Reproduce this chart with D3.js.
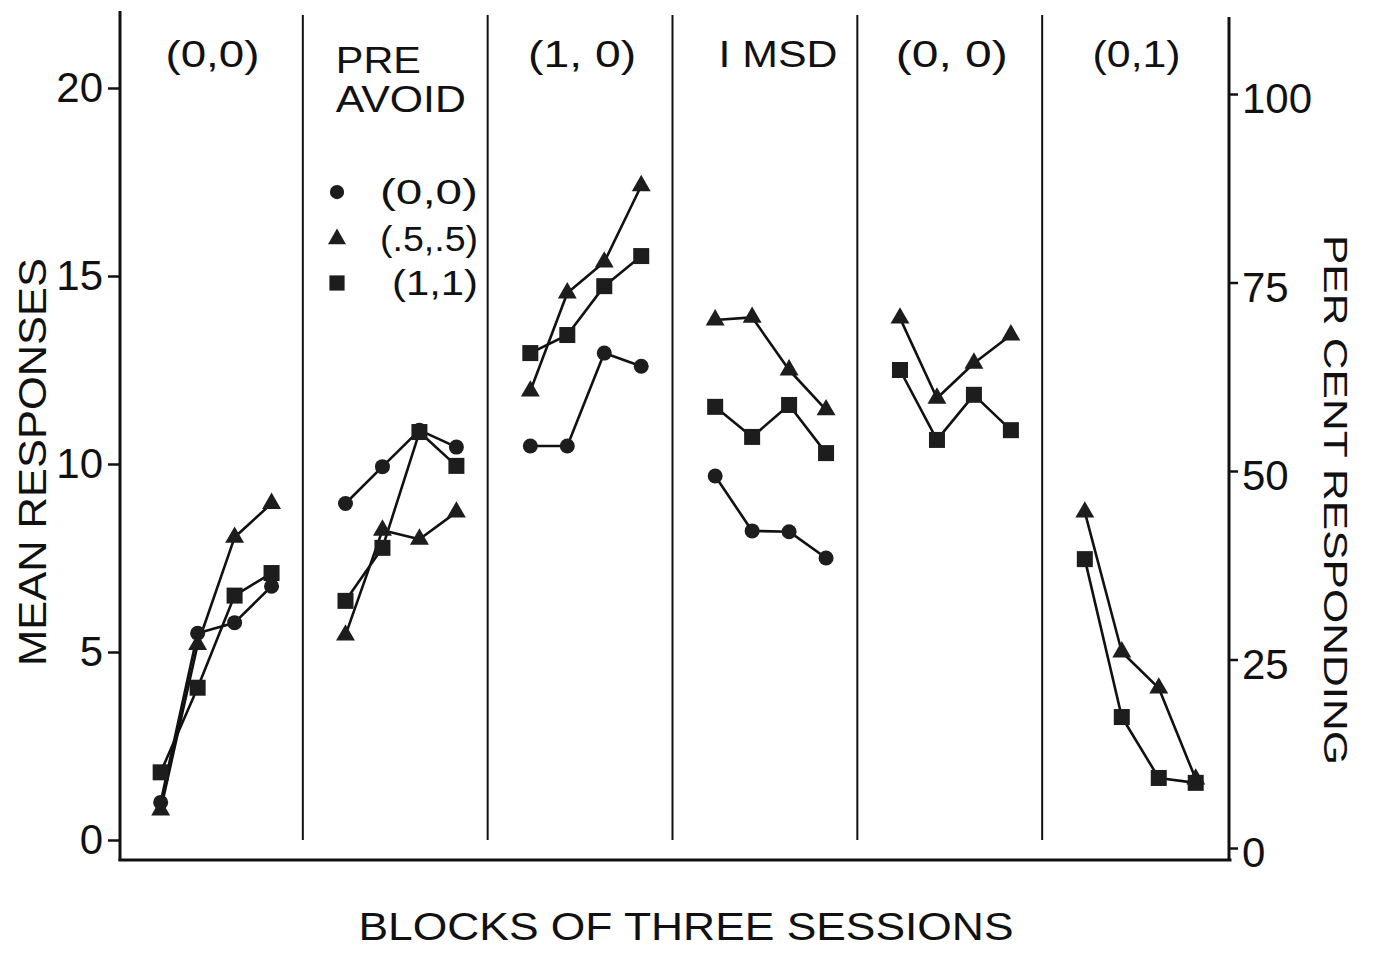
<!DOCTYPE html>
<html>
<head>
<meta charset="utf-8">
<script src="https://cdn.jsdelivr.net/npm/d3@7"></script>
<style>
  html, body { margin: 0; padding: 0; background: #fff; }
  svg { display: block; }
  text { font-family: "Liberation Sans", Arial, sans-serif; fill: #111; }
</style>
</head>
<body>
<svg id="chart" width="1375" height="956"></svg>
<script>
// Experimental phases, left to right
const phases = ["(0,0)", "PRE AVOID", "(1, 0)", "I MSD", "(0, 0)", "(0,1)"];
// Four blocks of three sessions inside each phase
const blocks = [1, 2, 3, 4];

// Mean responses per block, one row per phase (null = group not run in that phase)
const group00 = [
  [1.0, 5.5, 5.78, 6.75],
  [8.95, 9.93, 10.9, 10.45],
  [10.48, 10.48, 12.95, 12.6],
  [9.68, 8.22, 8.2, 7.5],
  null,
  null
];
const group55 = [
  [0.8, 5.2, 8.05, 8.95],
  [5.45, 8.24, 8.0, 8.72],
  [11.94, 14.55, 15.37, 17.4],
  [13.83, 13.9, 12.5, 11.44],
  [13.88, 11.75, 12.68, 13.43],
  [8.72, 5.0, 4.04, 1.62]
];
const group11 = [
  [1.8, 4.05, 6.5, 7.1],
  [6.36, 7.77, 10.85, 9.95],
  [12.95, 13.43, 14.73, 15.53],
  [11.52, 10.72, 11.57, 10.29],
  [12.5, 10.64, 11.84, 10.9],
  [7.47, 3.27, 1.65, 1.52]
];

// Legend entries
const legendLabels = ["(0,0)", "(.5,.5)", "(1,1)"];

// Axis ticks
const leftTicks = [0, 5, 10, 15, 20];
const rightTicks = [0, 25, 50, 75, 100];

const svg = d3.select("#chart");
const ink = "#111";
const markFill = "#1d1d1d";
const fontStack = "'Liberation Sans', Arial, sans-serif";

// Scales
const x = d3.scaleLinear().domain([0, 6]).range([120, 1229]);
const y = d3.scaleLinear().domain([0, 20]).range([840, 88]);
const yRight = d3.scaleLinear().domain([0, 100]).range([848, 94]);

// position of block i within phase p
const blockX = (p, i) => x(p + 0.22 + 0.2 * i);

// Frame: left axis, bottom axis, right axis
svg.append("line").attr("x1", 120).attr("x2", 120).attr("y1", 11).attr("y2", 861)
  .attr("stroke", ink).attr("stroke-width", 3);
svg.append("line").attr("x1", 118.5).attr("x2", 1231.5).attr("y1", 860).attr("y2", 860)
  .attr("stroke", ink).attr("stroke-width", 3);
svg.append("line").attr("x1", x(6)).attr("x2", x(6)).attr("y1", 17).attr("y2", 861)
  .attr("stroke", ink).attr("stroke-width", 3);

// Phase separators
svg.selectAll("line.sep").data(d3.range(1, 6)).join("line")
  .attr("class", "sep")
  .attr("x1", d => x(d) - 2).attr("x2", d => x(d) - 2)
  .attr("y1", 15).attr("y2", 840)
  .attr("stroke", ink).attr("stroke-width", 2);

// Left axis
const leftAxis = svg.append("g").attr("transform", "translate(120,0)")
  .call(d3.axisLeft(y).tickValues(leftTicks).tickSize(12).tickPadding(5).tickFormat(d3.format("d")));
leftAxis.select(".domain").remove();
leftAxis.selectAll(".tick line").attr("stroke", ink).attr("stroke-width", 2.5);
leftAxis.selectAll(".tick text").attr("font-size", 42).attr("fill", ink)
  .style("font-family", fontStack);

// Right axis
const rightAxis = svg.append("g").attr("transform", `translate(${x(6)},0)`)
  .call(d3.axisRight(yRight).tickValues(rightTicks).tickSize(9).tickPadding(4).tickFormat(d3.format("d")));
rightAxis.select(".domain").remove();
rightAxis.selectAll(".tick line").attr("stroke", ink).attr("stroke-width", 2.5);
rightAxis.selectAll(".tick text").attr("font-size", 42).attr("fill", ink)
  .attr("dy", "0.45em")
  .style("font-family", fontStack);

// Axis titles
svg.append("text")
  .attr("transform", "translate(46,462) rotate(-90)")
  .attr("text-anchor", "middle").attr("font-size", 38)
  .attr("textLength", 408).attr("lengthAdjust", "spacingAndGlyphs")
  .text("MEAN RESPONSES");
svg.append("text")
  .attr("transform", "translate(1324,500) rotate(90)")
  .attr("text-anchor", "middle").attr("font-size", 33)
  .attr("textLength", 530).attr("lengthAdjust", "spacingAndGlyphs")
  .text("PER CENT RESPONDING");
svg.append("text")
  .attr("x", 686).attr("y", 940)
  .attr("text-anchor", "middle").attr("font-size", 38)
  .attr("textLength", 655).attr("lengthAdjust", "spacingAndGlyphs")
  .text("BLOCKS OF THREE SESSIONS");

// Phase headings, set in wide lettering
const headingWidth = [94, 0, 108, 119, 112, 88];
phases.forEach((name, p) => {
  const cx = (x(p) + x(p + 1)) / 2;
  if (name === "PRE AVOID") {
    const g = svg.append("text").attr("font-size", 36);
    g.append("tspan").attr("x", x(p) + 31).attr("y", 73)
      .attr("textLength", 85).attr("lengthAdjust", "spacingAndGlyphs").text("PRE");
    g.append("tspan").attr("x", x(p) + 31).attr("y", 112)
      .attr("textLength", 130).attr("lengthAdjust", "spacingAndGlyphs").text("AVOID");
  } else {
    svg.append("text")
      .attr("x", name === "I MSD" ? cx + 11 : cx).attr("y", 67)
      .attr("text-anchor", "middle").attr("font-size", 36)
      .attr("textLength", headingWidth[p]).attr("lengthAdjust", "spacingAndGlyphs")
      .text(name);
  }
});

// Series definitions
const series = [
  { key: "00", rows: group00, shape: "circle" },
  { key: "55", rows: group55, shape: "triangle" },
  { key: "11", rows: group11, shape: "square" }
];

const line = d3.line().x(d => d.x).y(d => d.y);

function drawMark(sel, shape, scale) {
  const k = scale || 1;
  if (shape === "circle") {
    sel.append("circle").attr("r", 7.5 * k).attr("fill", markFill);
  } else if (shape === "square") {
    sel.append("rect").attr("x", -8 * k).attr("y", -8 * k)
      .attr("width", 16 * k).attr("height", 16 * k).attr("fill", markFill);
  } else {
    sel.append("path").attr("d", d3.symbol(d3.symbolTriangle, 155 * k * k)()).attr("fill", markFill);
  }
}

// Lines first, markers on top
series.forEach(s => {
  s.rows.forEach((row, p) => {
    if (!row) return;
    const pts = row.map((v, i) => ({ x: blockX(p, i), y: y(v) }));
    svg.append("path").attr("d", line(pts))
      .attr("fill", "none").attr("stroke", ink).attr("stroke-width", 2.6)
      .attr("stroke-linejoin", "round");
  });
});
series.forEach(s => {
  s.rows.forEach((row, p) => {
    if (!row) return;
    row.forEach((v, i) => {
      const g = svg.append("g").attr("transform", `translate(${blockX(p, blocks[i] - 1)},${y(v)})`);
      drawMark(g, s.shape);
    });
  });
});

// Legend inside the PRE AVOID phase
const legendY = [192, 239, 283];
const legendWidth = [98, 98, 86];
series.forEach((s, k) => {
  const g = svg.append("g").attr("transform", `translate(337,${legendY[k]})`);
  drawMark(g, s.shape, 0.95);
  svg.append("text").attr("x", 478).attr("y", legendY[k] + 12)
    .attr("text-anchor", "end").attr("font-size", 35)
    .attr("textLength", legendWidth[k]).attr("lengthAdjust", "spacingAndGlyphs")
    .text(legendLabels[k]);
});
</script>
</body>
</html>
